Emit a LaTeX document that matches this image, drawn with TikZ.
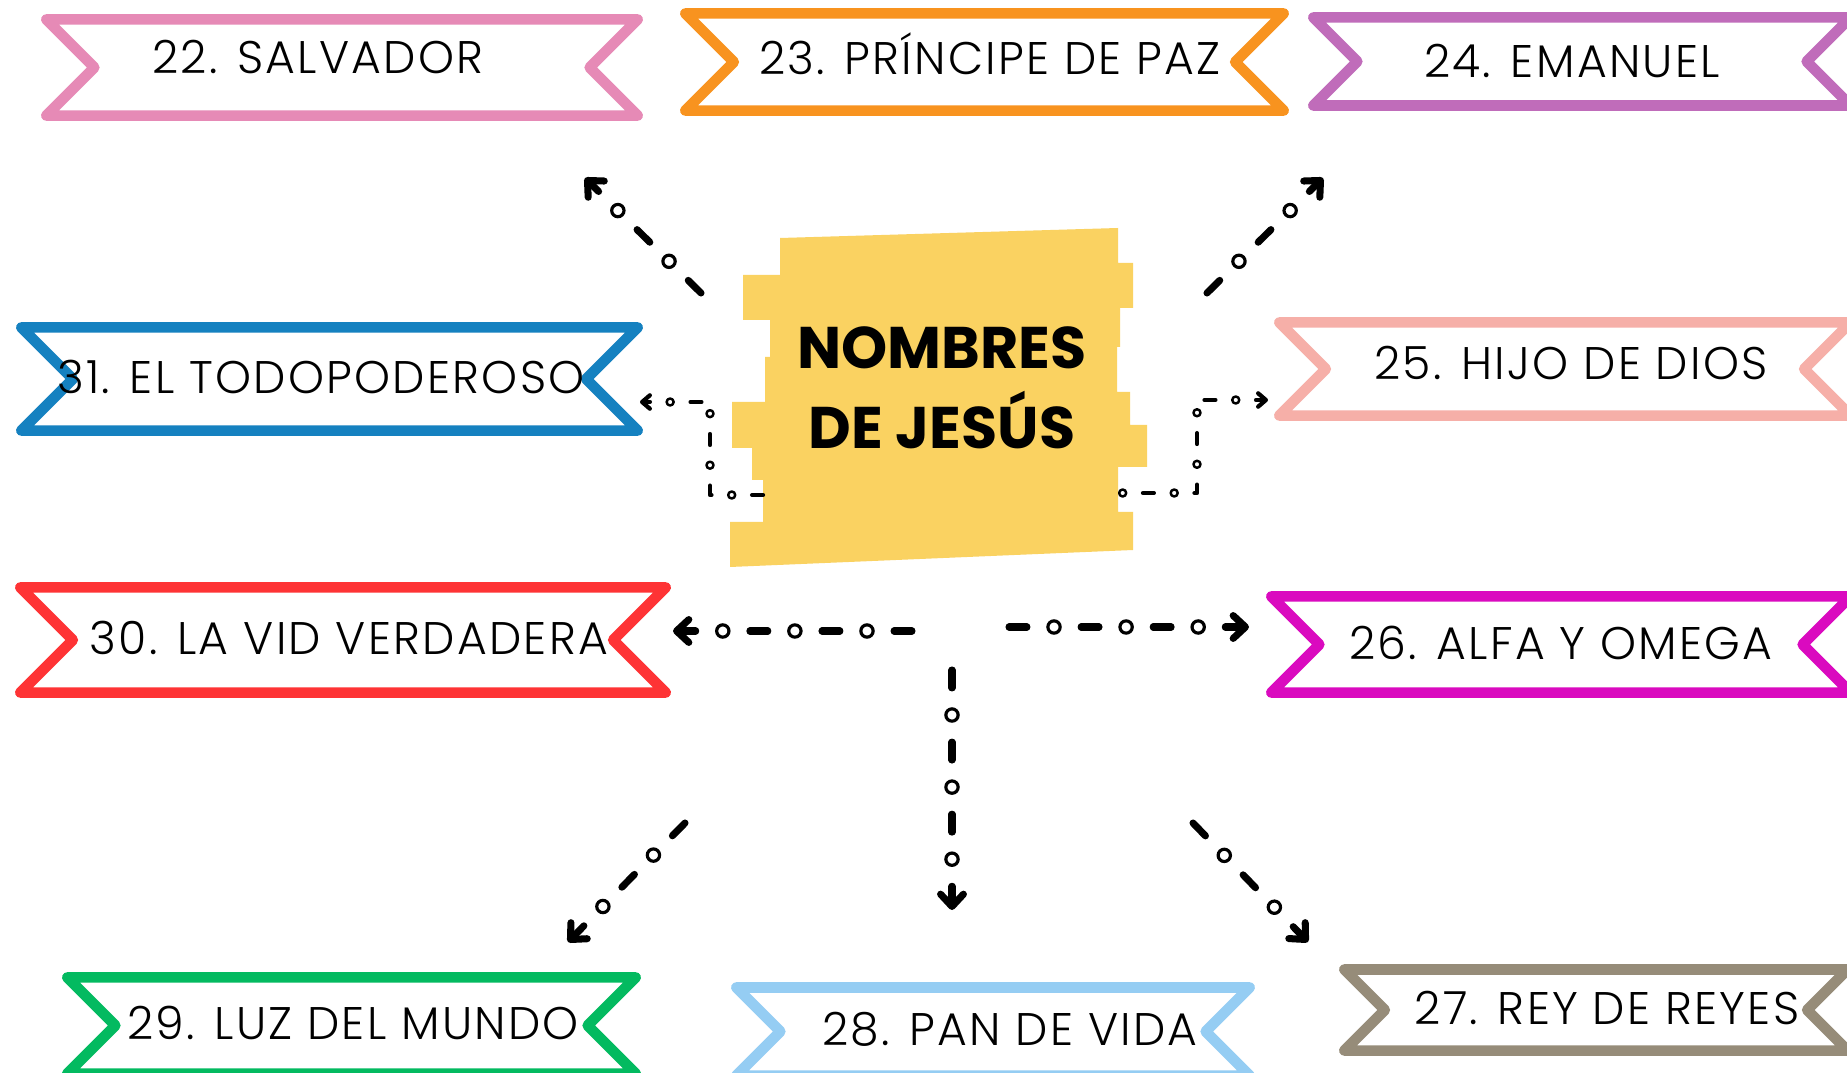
\documentclass[tikz,border=0pt]{standalone}
\usepackage{fontspec}
\setmainfont{Poppins}
\IfFontExistsTF{Poppins Light}{\newfontfamily\tagfont{Poppins Light}[LetterSpace=5]}{\newfontfamily\tagfont{Poppins}[LetterSpace=4]}
\usetikzlibrary{shapes.symbols,arrows.meta,decorations.markings}

\definecolor{rib22}{HTML}{E68AB6}
\definecolor{rib23}{HTML}{F8931F}
\definecolor{rib24}{HTML}{C06CBA}
\definecolor{rib25}{HTML}{F6AFA8}
\definecolor{rib26}{HTML}{DA0ABF}
\definecolor{rib27}{HTML}{968C79}
\definecolor{rib28}{HTML}{95CDF3}
\definecolor{rib29}{HTML}{03BA60}
\definecolor{rib30}{HTML}{FE3335}
\definecolor{rib31}{HTML}{1581C0}
\definecolor{hubyellow}{HTML}{FAD261}

\tikzset{
  ribbon/.style={shape=signal, signal from=west and east, signal to=nowhere, draw=#1, fill=white, line width=3pt, line join=round, inner sep=0pt},
  tag/.style={font=\tagfont\fontsize{13}{15}\selectfont, text height=9.1pt, text depth=0pt, inner sep=0pt},
  bigtrail/.style={line width=2pt, line cap=round, dash pattern=on 5.1pt off 15.4pt,
    -{Straight Barb[round, length=3.5pt, width=6.5pt]}, postaction={decorate},
    decoration={markings, mark=between positions 12.8pt and -8pt step 20.5pt with {\draw[solid, line width=0.9pt, fill=white] (0,0) circle (1.75pt);}}},
  smalltrail/.style 2 args={line width=1.2pt, line cap=round, line join=round, dash pattern=on 3.1pt off 11.55pt, dash phase=#1,
    -{Straight Barb[round, length=2.2pt, width=3.8pt]}, postaction={decorate},
    decoration={markings, mark=between positions #2 and -3pt step 14.65pt with {\draw[solid, line width=0.7pt, fill=white] (0,0) circle (1pt);}}}
}

\begin{document}
\begin{tikzpicture}[x=0.01cm, y=-0.01cm]
\clip (0,0) rectangle (1847,1073);
\fill[white] (0,0) rectangle (1847,1073);

% Center patch
\fill[hubyellow] (780,238) -- (1118,228) -- (1118,263) -- (1133,263) -- (1133,308) -- (1120,308) -- (1120,347) -- (1117,347) -- (1117,392) -- (1130,392) -- (1130,425) -- (1147,425) -- (1147,467) -- (1118,467) -- (1118,512) -- (1133,512) -- (1133,550) -- (730,567) -- (730,522) -- (763,522) -- (763,480) -- (752,480) -- (752,448) -- (732,448) -- (732,402) -- (765,402) -- (765,357) -- (770,357) -- (770,320) -- (743,320) -- (743,275) -- (780,275) -- cycle;
\node[font=\fontsize{16.7}{22.8}\selectfont\bfseries, align=center, inner sep=0pt] (hub) at (942,388) {NOMBRES\\DE JESÚS};

% Top row
\node[ribbon=rib22, minimum width=5.91cm, minimum height=0.96cm] (b22) at (342,67.5) {};
\node[tag] (t22) at (318,58) {22. SALVADOR};
\node[ribbon=rib23, minimum width=5.98cm, minimum height=0.97cm] (b23) at (984.5,62) {};
\node[tag] (t23) at (990,59) {23. PRÍNCIPE DE PAZ};
\node[ribbon=rib24, minimum width=5.37cm, minimum height=0.88cm] (b24) at (1582,61.5) {};
\node[tag] (t24) at (1572,62) {24. EMANUEL};

% Middle rows
\node[ribbon=rib31, minimum width=6.16cm, minimum height=1.03cm] (b31) at (329.5,379) {};
\node[tag] (t31) at (321,377) {31. EL TODOPODEROSO};
\node[ribbon=rib25, minimum width=5.71cm, minimum height=0.93cm] (b25) at (1565,369) {};
\node[tag] (t25) at (1571,364) {25. HIJO DE DIOS};
\node[ribbon=rib30, minimum width=6.45cm, minimum height=1.05cm] (b30) at (343,640) {};
\node[tag] (t30) at (349,639) {30. LA VID VERDADERA};
\node[ribbon=rib26, minimum width=5.79cm, minimum height=0.96cm] (b26) at (1561,644.5) {};
\node[tag] (t26) at (1561,643) {26. ALFA Y OMEGA};

% Bottom row
\node[ribbon=rib29, minimum width=5.68cm, minimum height=0.96cm] (b29) at (351.5,1025.5) {};
\node[tag] (t29) at (353,1023) {29. LUZ DEL MUNDO};
\node[ribbon=rib28, minimum width=5.13cm, minimum height=0.88cm] (b28) at (993,1031.5) {};
\node[tag] (t28) at (1010,1029) {28. PAN DE VIDA};
\node[ribbon=rib27, minimum width=5.03cm, minimum height=0.81cm] (b27) at (1596,1010) {};
\node[tag] (t27) at (1607,1008) {27. REY DE REYES};

% Arrow ends
\coordinate (from22) at (701,293);   \coordinate (to22) at (585,178);
\coordinate (from24) at (1207,293);  \coordinate (to24) at (1323,178);
\coordinate (from31) at (763,495);   \coordinate (to31) at (640,402);
\coordinate (from25) at (1118,493);  \coordinate (to25) at (1268,400);
\coordinate (from30) at (912,631);   \coordinate (to30) at (673,631);
\coordinate (from26) at (1009,627);  \coordinate (to26) at (1249,627);
\coordinate (from28) at (952,670);   \coordinate (to28) at (952,910);
\coordinate (from29) at (685,823);   \coordinate (to29) at (568,942);
\coordinate (from27) at (1193,823);  \coordinate (to27) at (1308,942);

% Arrows
\draw[bigtrail] (from22) -- (to22);
\draw[bigtrail] (from24) -- (to24);
\draw[smalltrail={0pt}{8.9pt}] (from31) -- ++(-53,0) |- (to31);
\draw[smalltrail={7.55pt}{1.33pt}] (from25) -- ++(79,0) |- (to25);
\draw[bigtrail] (from30) -- (to30);
\draw[bigtrail] (from26) -- (to26);
\draw[bigtrail] (from28) -- (to28);
\draw[bigtrail] (from29) -- (to29);
\draw[bigtrail] (from27) -- (to27);
\end{tikzpicture}
\end{document}
